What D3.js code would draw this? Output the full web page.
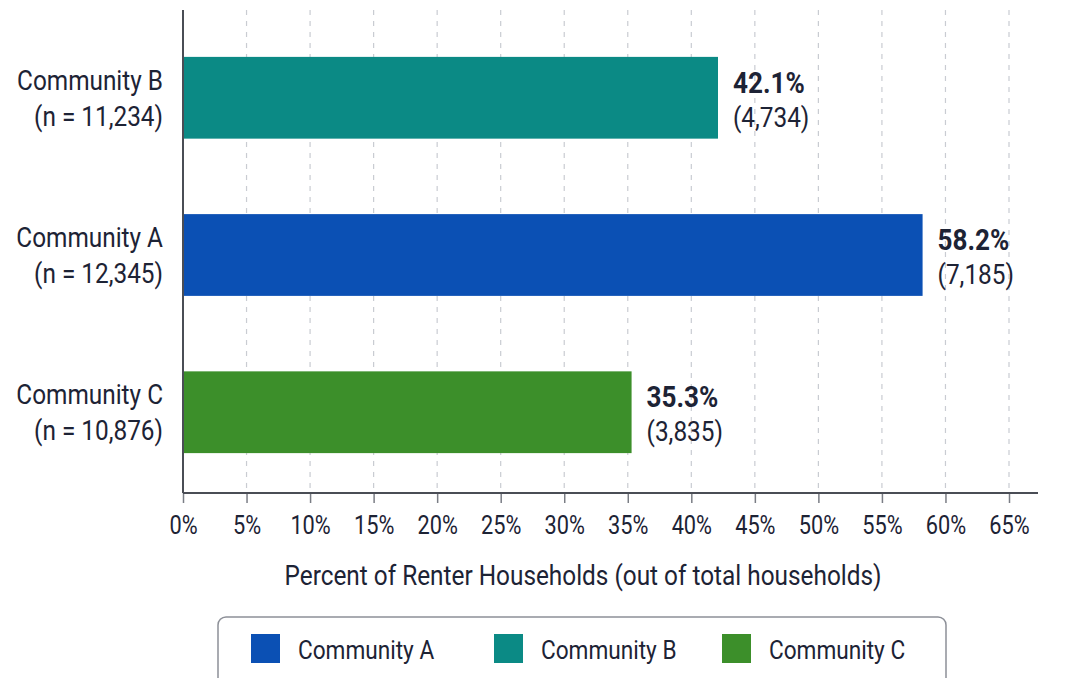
<!DOCTYPE html>
<html>
<head>
<meta charset="utf-8">
<script src="https://cdn.jsdelivr.net/npm/d3@7"></script>
<style>
  html, body { margin: 0; padding: 0; background: #ffffff; }
  svg { display: block; }
  text { font-family: "Roboto", "Noto Sans", sans-serif; }
</style>
</head>
<body>
<svg id="chart" width="1066" height="678"></svg>
<script>
// Renter household shares by community (top to bottom order)
const communities = ["Community B", "Community A", "Community C"];
const sampleSizes = ["11,234", "12,345", "10,876"];
const renterPercent = [42.1, 58.2, 35.3];
const renterCounts = ["4,734", "7,185", "3,835"];
const tickValues = [0, 5, 10, 15, 20, 25, 30, 35, 40, 45, 50, 55, 60, 65];
const legendOrder = ["Community A", "Community B", "Community C"];
const palette = { "Community A": "#0b50b4", "Community B": "#0b8a85", "Community C": "#3c8f2a" };

const svg = d3.select("#chart");
const textColor = "#1d2335";
const narrow = 0.87; // horizontal squeeze for a condensed look

// draws a condensed text label anchored at (x, y)
function label(parent, x, y, str, opts = {}) {
  const g = parent.append("g")
    .attr("transform", `translate(${x},${y}) scale(${opts.sx || narrow},1)`);
  return g.append("text")
    .attr("text-anchor", opts.anchor || "start")
    .attr("font-size", opts.size || 28)
    .attr("font-weight", opts.weight || "normal")
    .attr("fill", opts.fill || textColor)
    .text(str);
}

const plotLeft = 183, plotTop = 10, plotBottom = 493;
const x = d3.scaleLinear().domain([0, 65]).range([plotLeft, 1009]);
const axisEnd = 1038;

const y = d3.scaleBand()
  .domain(communities)
  .range([16, 494])
  .paddingInner(0.48)
  .paddingOuter(0.26);

// dashed vertical gridlines
svg.append("g")
  .selectAll("line")
  .data(tickValues.filter(v => v > 0))
  .join("line")
  .attr("x1", d => x(d)).attr("x2", d => x(d))
  .attr("y1", plotTop).attr("y2", plotBottom)
  .attr("stroke", "#c9ccd2")
  .attr("stroke-width", 1.2)
  .attr("stroke-dasharray", "5,6");

// bars
svg.append("g")
  .selectAll("rect")
  .data(communities)
  .join("rect")
  .attr("x", x(0))
  .attr("y", d => y(d))
  .attr("width", (d, i) => x(renterPercent[i]) - x(0))
  .attr("height", y.bandwidth())
  .attr("fill", d => palette[d]);

// x axis
const xAxis = d3.axisBottom(x)
  .tickValues(tickValues)
  .tickFormat(d => d + "%")
  .tickSize(10)
  .tickPadding(13);

const gx = svg.append("g")
  .attr("transform", `translate(0,${plotBottom})`)
  .call(xAxis);
gx.select(".domain").remove();
gx.append("line")
  .attr("x1", plotLeft).attr("x2", axisEnd)
  .attr("y1", 0).attr("y2", 0)
  .attr("stroke", "#4a4d55").attr("stroke-width", 2);
gx.selectAll(".tick line").attr("stroke", "#7a7d85").attr("stroke-width", 1.5);
gx.selectAll(".tick text")
  .attr("fill", textColor)
  .attr("font-size", 25)
  .attr("font-family", "Roboto, sans-serif")
  .attr("transform", `scale(${narrow},1)`);

// y axis line
svg.append("line")
  .attr("x1", plotLeft).attr("x2", plotLeft)
  .attr("y1", plotTop).attr("y2", plotBottom)
  .attr("stroke", "#4a4d55").attr("stroke-width", 2);

// category labels
const catG = svg.append("g");
communities.forEach((c, i) => {
  const cy = y(c) + y.bandwidth() / 2;
  label(catG, 163, cy - 8, c, { anchor: "end" });
  label(catG, 163, cy + 28, `(n = ${sampleSizes[i]})`, { anchor: "end" });
});

// value labels
const valG = svg.append("g");
communities.forEach((c, i) => {
  const cy = y(c) + y.bandwidth() / 2;
  const vx = x(renterPercent[i]) + 15;
  label(valG, vx, cy - 5, renterPercent[i].toFixed(1) + "%", { weight: "bold", size: 29, sx: 0.9 });
  label(valG, vx, cy + 29, `(${renterCounts[i]})`);
});

// axis title
label(svg, 583, 585, "Percent of Renter Households (out of total households)", { anchor: "middle", size: 28 });

// legend
const legend = svg.append("g");
legend.append("rect")
  .attr("x", 218).attr("y", 617)
  .attr("width", 728).attr("height", 70)
  .attr("rx", 8)
  .attr("fill", "#ffffff")
  .attr("stroke", "#8d9098")
  .attr("stroke-width", 1.5);
const legendX = [251, 494, 722];
legendOrder.forEach((name, i) => {
  const item = legend.append("g").attr("transform", `translate(${legendX[i]},634)`);
  item.append("rect")
    .attr("width", 29).attr("height", 29)
    .attr("fill", palette[name]);
  label(item, 47, 25, name, { size: 26 });
});
</script>
</body>
</html>
